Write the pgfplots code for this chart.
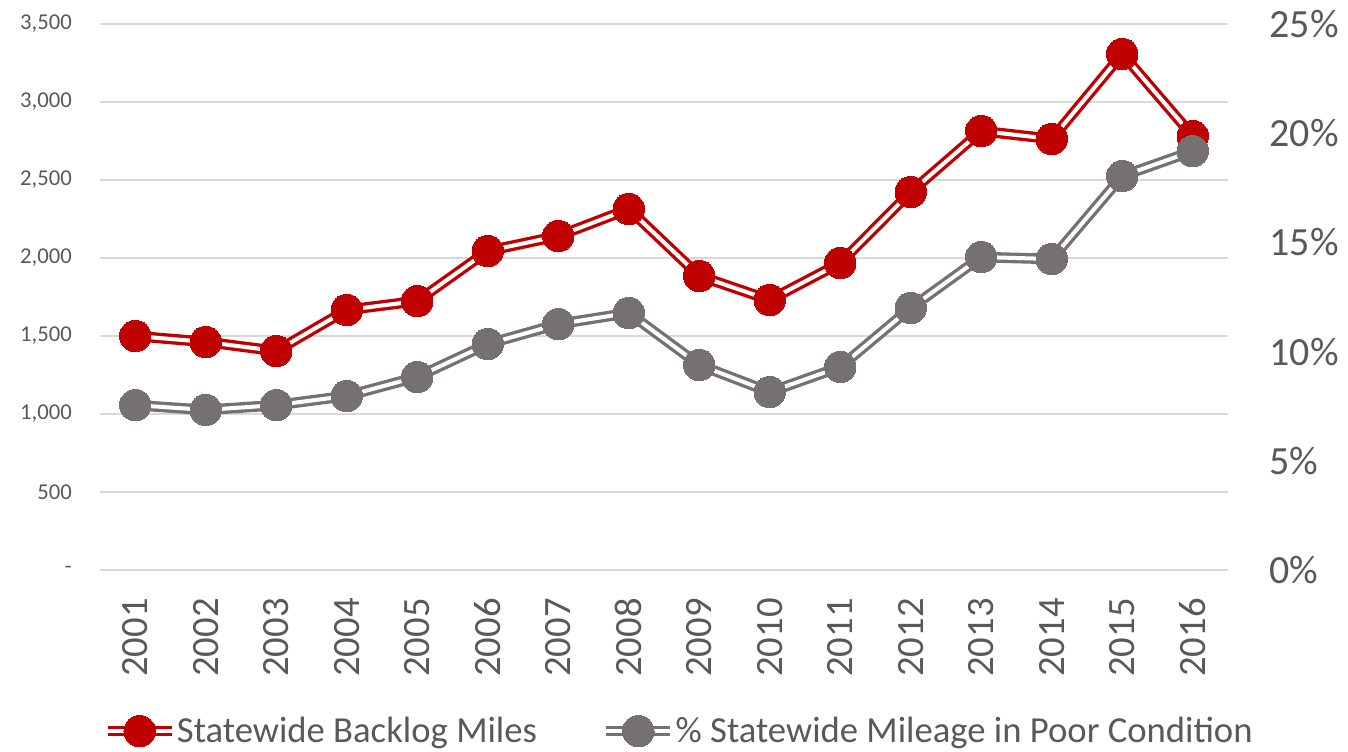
\documentclass[border=0pt]{standalone}
\usepackage{pgfplots}
\pgfplotsset{compat=1.18}
\usepackage{fontspec}
\setmainfont{Carlito}
\definecolor{cred}{HTML}{C00000}
\definecolor{cgray}{HTML}{767171}
\definecolor{ctext}{HTML}{595959}
\definecolor{cgrid}{HTML}{D9D9D9}

\pgfplotstableread{
year backlog pct
2001 1500 7.55
2002 1462 7.33
2003 1404 7.55
2004 1667 7.97
2005 1724 8.84
2006 2045 10.35
2007 2141 11.26
2008 2314 11.77
2009 1885 9.39
2010 1731 8.15
2011 1968 9.30
2012 2423 12.00
2013 2814 14.33
2014 2763 14.24
2015 3308 18.04
2016 2782 19.18
}\datatable

\begin{document}
\begin{tikzpicture}
\useasboundingbox (0,0) rectangle (1011pt,563.25pt);
\pgfplotsset{
 base/.style={width=846pt,height=409.5pt,scale only axis,
   xmin=2000.5,xmax=2016.5, at={(75pt,135.75pt)}, anchor=south west,
   axis line style={draw=none}, tick style={draw=none}, ymin=0,
   clip=false},
 dl/.style={line width=2.5pt, double=white, double distance=3pt,
   mark=*, mark size=11.8pt, mark options={fill=#1, draw=#1, line width=0pt},
   draw=#1, line join=round},
 legend image code/.code={\draw[mark repeat=2,mark phase=2,#1] plot coordinates {(0pt,0pt) (24pt,0pt) (48pt,0pt)};},
}
\begin{axis}[base, ymax=3500, ytick={0,500,...,3500},
  yticklabels={-,500,{1,000},{1,500},{2,000},{2,500},{3,000},{3,500}},
  ymajorgrids, grid style={cgrid, line width=1.1pt},
  yticklabel style={font=\fontsize{17}{20}\selectfont, text=ctext, anchor=east, inner sep=0pt, xshift=-21pt},
  xtick={2001,2002,2003,2004,2005,2006,2007,2008,2009,2010,2011,2012,2013,2014,2015,2016},
  xticklabels={2001,2002,2003,2004,2005,2006,2007,2008,2009,2010,2011,2012,2013,2014,2015,2016},
  xticklabel style={font=\fontsize{29}{32}\selectfont, text=ctext, rotate=90, anchor=east, inner sep=0pt, xshift=-21pt},
]
\addplot[dl=cred] table[x=year,y=backlog]{\datatable};
\end{axis}
\begin{axis}[base, ymax=25, axis y line*=right, axis x line=none,
  ytick={0,5,...,25}, yticklabels={0\%,5\%,10\%,15\%,20\%,25\%},
  yticklabel style={font=\fontsize{30}{34}\selectfont, text=ctext, anchor=west, inner sep=0pt, xshift=31pt},
  legend columns=2,
  legend style={at={(0.512,-0.295)}, anchor=center, draw=none, fill=none,
    font=\fontsize{27.5}{31}\selectfont, text=ctext,
    /tikz/every even column/.append style={column sep=48pt},
    nodes={inner xsep=0pt}},
]
\addlegendimage{dl=cred}
\addlegendentry{Statewide Backlog Miles}
\addplot[dl=cgray] table[x=year,y=pct]{\datatable};
\addlegendentry{\% Statewide Mileage in Poor Condition}
\end{axis}
\end{tikzpicture}
\end{document}
